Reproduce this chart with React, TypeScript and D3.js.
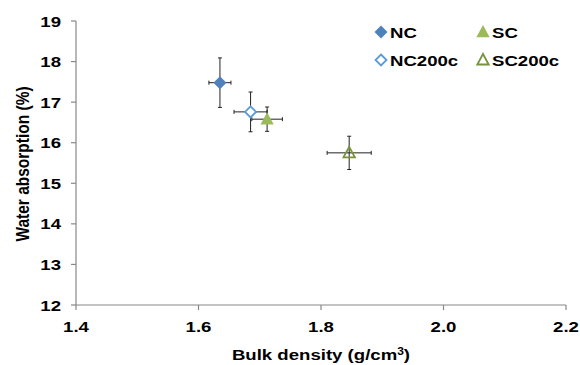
import React from 'react';
import * as d3 from 'd3';

const series = ['NC', 'SC', 'NC200c', 'SC200c'];
const density = [1.635, 1.712, 1.685, 1.846];
const densityErr = [0.018, 0.025, 0.027, 0.036];
const absorption = [17.48, 16.58, 16.76, 15.75];
const absorptionErr = [0.61, 0.3, 0.49, 0.41];
const xTicks = [1.4, 1.6, 1.8, 2.0, 2.2];
const yTicks = [12, 13, 14, 15, 16, 17, 18, 19];

const BLUE = '#4F81BD';
const GREEN = '#9BBB59';
const styles: Record<string, { shape: 'diamond' | 'triangle'; color: string; filled: boolean }> = {
  NC: { shape: 'diamond', color: BLUE, filled: true },
  SC: { shape: 'triangle', color: GREEN, filled: true },
  NC200c: { shape: 'diamond', color: '#5B9BD5', filled: false },
  SC200c: { shape: 'triangle', color: '#77933C', filled: false },
};

const W = 580;
const H = 365;
const left = 76, right = 566, top = 21, bottom = 305;
const SX = 1.2; // text in the reference is a bit wider than normal

const T = ({ x, y, anchor = 'start', size = 15.5, rotate = 0, children }: any) => (
  <g transform={`translate(${x},${y}) rotate(${rotate}) scale(${rotate ? 1 : SX},${rotate ? SX : 1})`}>
    <text textAnchor={anchor} fontSize={size} fontWeight="bold" fill="#000">{children}</text>
  </g>
);

const Marker = ({ name, cx, cy }: { name: string; cx: number; cy: number }) => {
  const s = styles[name];
  if (s.shape === 'diamond') {
    const r = s.filled ? 6.5 : 5.5;
    const d = `M${cx},${cy - r}L${cx + r},${cy}L${cx},${cy + r}L${cx - r},${cy}Z`;
    return s.filled
      ? <path d={d} fill={s.color} />
      : <path d={d} fill="#fff" stroke={s.color} strokeWidth={1.8} />;
  }
  const r = s.filled ? 7 : 6;
  const d = `M${cx},${cy - r}L${cx + r * 0.95},${cy + r * 0.75}L${cx - r * 0.95},${cy + r * 0.75}Z`;
  return s.filled
    ? <path d={d} fill={s.color} />
    : <path d={d} fill="none" stroke={s.color} strokeWidth={1.8} />;
};

export default function App() {
  const x = d3.scaleLinear().domain([1.4, 2.2]).range([left, right]);
  const y = d3.scaleLinear().domain([12, 19]).range([bottom, top]);
  const font = 'Liberation Sans, Arial, sans-serif';
  const axisColor = '#888';
  const cap = 2;

  const legendPos = [
    { x: 381, y: 32 },
    { x: 483, y: 32 },
    { x: 381, y: 60 },
    { x: 483, y: 60 },
  ];

  return (
    <svg width={W} height={H} style={{ position: 'absolute', left: 0, top: 0 }} fontFamily={font}>
      <rect width={W} height={H} fill="#fff" />
      {/* axes */}
      <line x1={left} x2={left} y1={y(19)} y2={bottom} stroke={axisColor} strokeWidth={1.2} />
      <line x1={left} x2={right} y1={bottom} y2={bottom} stroke={axisColor} strokeWidth={1.2} />
      {yTicks.map(t => (
        <g key={t}>
          <line x1={left - 5} x2={left} y1={y(t)} y2={y(t)} stroke={axisColor} strokeWidth={1.2} />
          <T x={61} y={y(t) + 5.5} anchor="end">{t}</T>
        </g>
      ))}
      {xTicks.map(t => (
        <g key={t}>
          <line x1={x(t)} x2={x(t)} y1={bottom} y2={bottom + 5} stroke={axisColor} strokeWidth={1.2} />
          <T x={x(t)} y={bottom + 27} anchor="middle">{t.toFixed(1)}</T>
        </g>
      ))}
      <T x={321} y={360} anchor="middle">
        Bulk density (g/cm<tspan dy={-5} fontSize={10}>3</tspan><tspan dy={5}>)</tspan>
      </T>
      <T x={29} y={(top + bottom) / 2 + 1} anchor="middle" rotate={-90} size={15.5}>
        Water absorption (%)
      </T>
      {/* error bars */}
      {series.map((s, i) => {
        const cx = x(density[i]);
        const cy = y(absorption[i]);
        const x0 = x(density[i] - densityErr[i]);
        const x1 = x(density[i] + densityErr[i]);
        const y0 = y(absorption[i] - absorptionErr[i]);
        const y1 = y(absorption[i] + absorptionErr[i]);
        return (
          <g key={s} stroke="#222" strokeWidth={1}>
            <line x1={cx} x2={cx} y1={y0} y2={y1} />
            <line x1={cx - cap} x2={cx + cap} y1={y0} y2={y0} />
            <line x1={cx - cap} x2={cx + cap} y1={y1} y2={y1} />
            <line x1={x0} x2={x1} y1={cy} y2={cy} />
            <line x1={x0} x2={x0} y1={cy - cap} y2={cy + cap} />
            <line x1={x1} x2={x1} y1={cy - cap} y2={cy + cap} />
          </g>
        );
      })}
      {series.map((s, i) => (
        <Marker key={s} name={s} cx={x(density[i])} cy={y(absorption[i])} />
      ))}
      {/* legend */}
      {series.map((s, i) => (
        <g key={s}>
          <Marker name={s} cx={legendPos[i].x} cy={legendPos[i].y} />
          <T x={legendPos[i].x + 9} y={legendPos[i].y + 6}>{s}</T>
        </g>
      ))}
    </svg>
  );
}
